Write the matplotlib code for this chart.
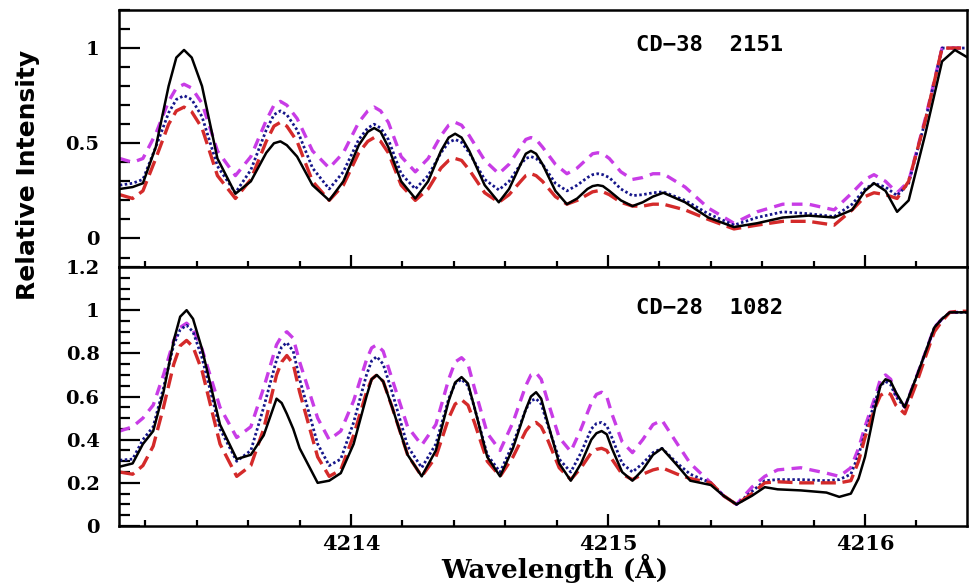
import matplotlib
matplotlib.use("Agg")
import matplotlib.pyplot as plt
from matplotlib.ticker import MultipleLocator, FixedLocator

# ---- data (wavelength in A, relative intensity) ----
x_top = [4213.10, 4213.15, 4213.19, 4213.24, 4213.29, 4213.32, 4213.35, 4213.38,
         4213.42, 4213.48, 4213.55,
         4213.61, 4213.67, 4213.70, 4213.725, 4213.75,
         4213.79, 4213.85, 4213.915,
         4213.97, 4214.03, 4214.065, 4214.09, 4214.115,
         4214.145, 4214.195, 4214.25,
         4214.30, 4214.35, 4214.38, 4214.405, 4214.43,
         4214.46, 4214.52, 4214.575,
         4214.615, 4214.66, 4214.68, 4214.70, 4214.72,
         4214.745, 4214.795, 4214.84,
         4214.88, 4214.92, 4214.94, 4214.96, 4214.98,
         4215.005, 4215.05, 4215.095,
         4215.135, 4215.175, 4215.215,
         4215.30, 4215.39, 4215.49,
         4215.58, 4215.68, 4215.78, 4215.88,
         4215.95, 4216.00, 4216.035,
         4216.08, 4216.125,
         4216.17, 4216.235, 4216.30, 4216.35, 4216.40]

top_black = [0.26, 0.27, 0.29, 0.48, 0.80, 0.95, 0.99, 0.95,
             0.80, 0.42, 0.235,
             0.30, 0.45, 0.50, 0.51, 0.49,
             0.43, 0.28, 0.20,
             0.30, 0.49, 0.56, 0.58, 0.56,
             0.48, 0.30, 0.21,
             0.30, 0.46, 0.53, 0.55, 0.53,
             0.46, 0.28, 0.19,
             0.26, 0.39, 0.445, 0.46, 0.445,
             0.39, 0.25, 0.18,
             0.21, 0.26, 0.275, 0.28, 0.275,
             0.25, 0.20, 0.17,
             0.19, 0.22, 0.24,
             0.19, 0.11, 0.06,
             0.08, 0.11, 0.12, 0.11,
             0.15, 0.25, 0.29,
             0.25, 0.14,
             0.20, 0.55, 0.93, 0.99, 0.95]

top_red = [0.23, 0.21, 0.25, 0.42, 0.60, 0.67, 0.69, 0.665,
           0.58, 0.33, 0.21,
           0.31, 0.51, 0.59, 0.61, 0.59,
           0.51, 0.30, 0.20,
           0.28, 0.45, 0.51, 0.53, 0.51,
           0.45, 0.28, 0.20,
           0.26, 0.37, 0.41, 0.42, 0.41,
           0.36, 0.24, 0.19,
           0.23, 0.30, 0.33, 0.34, 0.33,
           0.30, 0.22, 0.18,
           0.20, 0.23, 0.245, 0.25, 0.245,
           0.23, 0.19, 0.17,
           0.17, 0.18, 0.18,
           0.15, 0.10, 0.05,
           0.07, 0.09, 0.09, 0.07,
           0.15, 0.22, 0.24,
           0.23, 0.21,
           0.30, 0.62, 1.0, 1.0, 1.0]

top_magenta = [0.42, 0.40, 0.42, 0.55, 0.72, 0.79, 0.81, 0.79,
               0.71, 0.46, 0.33,
               0.43, 0.62, 0.70, 0.72, 0.70,
               0.63, 0.46, 0.37,
               0.45, 0.61, 0.67, 0.69, 0.67,
               0.61, 0.43, 0.35,
               0.42, 0.54, 0.595, 0.61, 0.595,
               0.54, 0.41, 0.34,
               0.39, 0.48, 0.52, 0.53, 0.52,
               0.48, 0.39, 0.34,
               0.37, 0.42, 0.445, 0.45, 0.445,
               0.42, 0.35, 0.31,
               0.32, 0.34, 0.34,
               0.27, 0.16, 0.08,
               0.14, 0.18, 0.18, 0.15,
               0.24, 0.31, 0.335,
               0.30, 0.24,
               0.30, 0.63, 1.0, 1.0, 1.0]

top_navy = [0.28, 0.29, 0.31, 0.48, 0.66, 0.73, 0.75, 0.73,
            0.64, 0.38, 0.24,
            0.36, 0.57, 0.65, 0.67, 0.65,
            0.57, 0.37, 0.26,
            0.35, 0.52, 0.58, 0.60, 0.58,
            0.52, 0.34, 0.26,
            0.33, 0.45, 0.505, 0.52, 0.505,
            0.45, 0.31, 0.255,
            0.30, 0.39, 0.42, 0.43, 0.42,
            0.39, 0.29, 0.25,
            0.28, 0.32, 0.335, 0.34, 0.335,
            0.32, 0.26, 0.225,
            0.23, 0.24, 0.245,
            0.20, 0.13, 0.07,
            0.11, 0.14, 0.13, 0.115,
            0.18, 0.26, 0.29,
            0.27, 0.225,
            0.29, 0.62, 1.0, 1.0, 1.0]

x_bot = [4213.10, 4213.15, 4213.19, 4213.23, 4213.27, 4213.31, 4213.335, 4213.36, 4213.385,
         4213.42, 4213.49, 4213.555,
         4213.61, 4213.66, 4213.71, 4213.73, 4213.75, 4213.775,
         4213.80, 4213.87, 4213.915, 4213.96,
         4214.01, 4214.06, 4214.08, 4214.10, 4214.125,
         4214.16, 4214.22, 4214.275,
         4214.33, 4214.38, 4214.405, 4214.43, 4214.455,
         4214.48, 4214.53, 4214.58,
         4214.63, 4214.68, 4214.70, 4214.72, 4214.74,
         4214.765, 4214.81, 4214.855,
         4214.895, 4214.935, 4214.955, 4214.975, 4214.995,
         4215.015, 4215.055, 4215.095,
         4215.135, 4215.175, 4215.21,
         4215.27, 4215.32, 4215.40, 4215.45, 4215.50,
         4215.56, 4215.61, 4215.66, 4215.75, 4215.85, 4215.90, 4215.945,
         4215.975, 4216.00, 4216.04, 4216.06, 4216.08, 4216.10,
         4216.12, 4216.155,
         4216.20, 4216.24, 4216.27, 4216.30, 4216.33, 4216.36, 4216.40]

bot_black = [0.275, 0.29, 0.38, 0.44, 0.62, 0.86, 0.97, 1.0, 0.96,
             0.82, 0.47, 0.31,
             0.33, 0.42, 0.59, 0.57, 0.52, 0.45,
             0.36, 0.20, 0.21, 0.245,
             0.38, 0.60, 0.68, 0.70, 0.67,
             0.55, 0.33, 0.23,
             0.35, 0.58, 0.665, 0.69, 0.66,
             0.55, 0.32, 0.23,
             0.36, 0.54, 0.60, 0.62, 0.59,
             0.48, 0.29, 0.21,
             0.29, 0.40, 0.43, 0.44, 0.425,
             0.36, 0.25, 0.21,
             0.26, 0.33, 0.36,
             0.28, 0.21, 0.19, 0.14, 0.10,
             0.14, 0.18, 0.17, 0.165, 0.155, 0.135, 0.15,
             0.22, 0.32, 0.55, 0.65, 0.68, 0.67,
             0.62, 0.55,
             0.69, 0.82, 0.92, 0.96, 0.99, 0.99, 0.99]

bot_red = [0.25, 0.24, 0.28, 0.37, 0.55, 0.75, 0.835, 0.86, 0.83,
           0.72, 0.38, 0.23,
           0.28, 0.45, 0.70, 0.76, 0.79, 0.75,
           0.62, 0.32, 0.23, 0.26,
           0.42, 0.62, 0.68, 0.70, 0.67,
           0.55, 0.33, 0.23,
           0.32, 0.50, 0.565, 0.585, 0.56,
           0.48, 0.30, 0.23,
           0.32, 0.44, 0.47, 0.48, 0.46,
           0.40, 0.27, 0.215,
           0.27, 0.34, 0.355, 0.36, 0.35,
           0.31, 0.24, 0.215,
           0.24, 0.26, 0.27,
           0.24, 0.22, 0.20, 0.14, 0.10,
           0.15, 0.20, 0.205, 0.20, 0.20, 0.20, 0.21,
           0.30, 0.41, 0.55, 0.605, 0.62, 0.61,
           0.56, 0.52,
           0.66, 0.80, 0.90, 0.95, 0.99, 0.995, 0.995]

bot_magenta = [0.44, 0.46, 0.50, 0.56, 0.70, 0.86, 0.92, 0.94, 0.91,
               0.82, 0.55, 0.41,
               0.46, 0.64, 0.84, 0.88, 0.90, 0.87,
               0.76, 0.50, 0.40, 0.44,
               0.58, 0.77, 0.825, 0.84, 0.81,
               0.68, 0.46, 0.375,
               0.47, 0.68, 0.76, 0.78, 0.75,
               0.64, 0.43, 0.35,
               0.48, 0.65, 0.70, 0.71, 0.68,
               0.58, 0.41, 0.345,
               0.45, 0.57, 0.61, 0.62, 0.60,
               0.52, 0.39, 0.34,
               0.40, 0.47, 0.49,
               0.38, 0.29, 0.20, 0.14, 0.10,
               0.18, 0.23, 0.26, 0.27, 0.245, 0.23, 0.27,
               0.36, 0.46, 0.60, 0.68, 0.70, 0.68,
               0.61, 0.55,
               0.69, 0.82, 0.92, 0.96, 0.99, 0.99, 0.99]

bot_navy = [0.305, 0.31, 0.40, 0.46, 0.64, 0.84, 0.91, 0.93, 0.90,
            0.78, 0.45, 0.30,
            0.35, 0.55, 0.77, 0.83, 0.85, 0.81,
            0.68, 0.38, 0.28, 0.31,
            0.48, 0.70, 0.765, 0.785, 0.75,
            0.62, 0.37, 0.27,
            0.38, 0.59, 0.66, 0.68, 0.65,
            0.55, 0.33, 0.25,
            0.38, 0.54, 0.58, 0.59, 0.565,
            0.47, 0.31, 0.25,
            0.34, 0.45, 0.475, 0.48, 0.465,
            0.41, 0.29, 0.25,
            0.29, 0.34, 0.36,
            0.29, 0.24, 0.20, 0.14, 0.10,
            0.16, 0.21, 0.215, 0.215, 0.21, 0.215, 0.24,
            0.33, 0.43, 0.58, 0.65, 0.67, 0.655,
            0.60, 0.55,
            0.69, 0.82, 0.92, 0.96, 0.99, 0.99, 0.99]

star_names = ["CD\u221238  2151", "CD\u221228  1082"]
xticks_major = [4214, 4215, 4216]

# ---- figure ----
fig = plt.figure(figsize=(9.7, 5.87), dpi=100)
ax_top = fig.add_axes([0.1227, 0.5451, 0.8742, 0.4379])
ax_bot = fig.add_axes([0.1227, 0.1039, 0.8742, 0.4412], sharex=ax_top)

ytickfont = {"family": "DejaVu Serif", "weight": "bold", "size": 14}
xtickfont = {"family": "DejaVu Serif", "weight": "bold", "size": 15}
namefont = {"family": "DejaVu Sans Mono", "weight": "bold", "size": 16}

def draw(ax, x, black, red, magenta, navy):
    ax.plot(x, magenta, color="#c83ce6", lw=2.4, dashes=(3.2, 2.2))
    ax.plot(x, navy, color="#16168a", lw=2.0, dashes=(0.9, 0.9))
    ax.plot(x, red, color="#d42a2a", lw=2.4, dashes=(4.5, 2.0))
    ax.plot(x, black, color="black", lw=1.8)
    for s in ax.spines.values():
        s.set_linewidth(1.8)
    ax.tick_params(axis="both", which="both", direction="in",
                   top=False, right=False, width=1.6)
    ax.tick_params(axis="y", which="major", length=15, pad=14)
    ax.tick_params(axis="y", which="minor", length=8)
    ax.tick_params(axis="x", which="major", length=8.5, pad=6)
    ax.tick_params(axis="x", which="minor", length=4.5)
    ax.xaxis.set_major_locator(FixedLocator(xticks_major))
    ax.xaxis.set_minor_locator(MultipleLocator(0.2))

draw(ax_top, x_top, top_black, top_red, top_magenta, top_navy)
draw(ax_bot, x_bot, bot_black, bot_red, bot_magenta, bot_navy)

ax_top.set_xlim(4213.097, 4216.397)
ax_top.set_ylim(-0.15, 1.2)
ax_top.yaxis.set_major_locator(FixedLocator([0, 0.5, 1]))
ax_top.yaxis.set_minor_locator(MultipleLocator(0.1))
ax_top.set_yticklabels(["0", "0.5", "1"], fontdict=ytickfont)
ax_top.tick_params(axis="x", labelbottom=False)

ax_bot.set_ylim(0, 1.2)
ax_bot.yaxis.set_major_locator(FixedLocator([0, 0.2, 0.4, 0.6, 0.8, 1.0, 1.2]))
ax_bot.yaxis.set_minor_locator(MultipleLocator(0.05))
ax_bot.set_yticklabels(["0", "0.2", "0.4", "0.6", "0.8", "1", "1.2"], fontdict=ytickfont)
ax_bot.set_xticklabels([str(t) for t in xticks_major], fontdict=xtickfont)

ax_top.text(0.61, 0.84, star_names[0], transform=ax_top.transAxes, fontdict=namefont)
ax_bot.text(0.61, 0.82, star_names[1], transform=ax_bot.transAxes, fontdict=namefont)

fig.text(555 / 970, 1 - 568 / 587, "Wavelength (\u00c5)", ha="center", va="center",
         family="DejaVu Serif", weight="bold", size=19)
fig.text(28 / 970, 1 - 175 / 587, "Relative Intensity", ha="center", va="center",
         rotation=90, family="DejaVu Sans", weight="bold", size=18)

fig.savefig("out.png", dpi=100)
